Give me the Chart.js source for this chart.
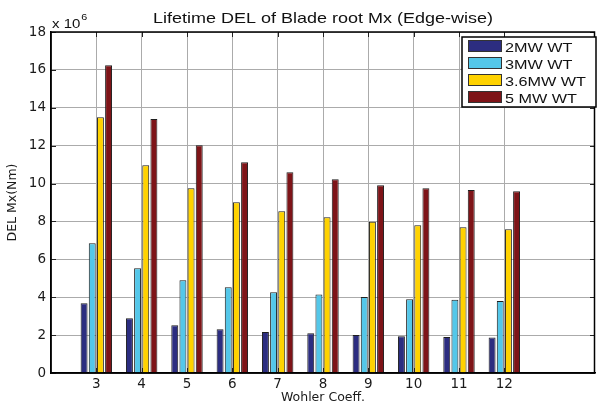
<!DOCTYPE html>
<html>
<head>
<meta charset="utf-8">
<script src="https://cdn.jsdelivr.net/npm/chart.js@4/dist/chart.umd.min.js"></script>
<style>
  html, body { margin: 0; padding: 0; background: #ffffff; }
  #wrap { width: 598px; height: 405px; }
</style>
</head>
<body>
<div id="wrap"><canvas id="chart" width="598" height="405"></canvas></div>
<script>
// Wohler coefficient (x axis) and lifetime DEL of blade root Mx, in units of 1e6 Nm
const wohlerCoeff = [3, 4, 5, 6, 7, 8, 9, 10, 11, 12];
const del2MW  = [3.68, 2.89, 2.52, 2.31, 2.16, 2.10, 2.01, 1.94, 1.90, 1.88];
const del3MW  = [6.85, 5.53, 4.89, 4.52, 4.26, 4.14, 4.01, 3.89, 3.87, 3.80];
const del36MW = [13.50, 10.97, 9.75, 9.01, 8.54, 8.22, 7.99, 7.80, 7.69, 7.59];
const del5MW  = [16.25, 13.41, 12.02, 11.12, 10.60, 10.23, 9.91, 9.75, 9.66, 9.59];
const seriesLabels = ['2MW WT', '3MW WT', '3.6MW WT', '5 MW WT'];
const seriesColors = ['#2c2d80', '#54c7e9', '#ffd200', '#7e1418'];
const yTickValues = [0, 2, 4, 6, 8, 10, 12, 14, 16, 18];
const xRange = [2, 14];

const TEXT_FONT = '"Liberation Sans", Arial, sans-serif';
const TICK_FONT = '"DejaVu Sans", sans-serif';

function points(values) {
  return wohlerCoeff.map((c, i) => ({ x: c, y: values[i] }));
}

const seriesValues = [del2MW, del3MW, del36MW, del5MW];
const datasets = seriesValues.map((vals, i) => ({
  label: seriesLabels[i],
  data: points(vals),
  backgroundColor: seriesColors[i],
  borderColor: '#1e1e1e',
  borderWidth: 1,
  categoryPercentage: 0.72,
  barPercentage: 0.85
}));

// Draws text stretched horizontally by sx
function wideText(ctx, text, x, y, size, sx, align) {
  ctx.save();
  ctx.font = size + 'px ' + TEXT_FONT;
  ctx.textBaseline = 'alphabetic';
  const w = ctx.measureText(text).width * sx;
  let left = x;
  if (align === 'center') left = x - w / 2;
  else if (align === 'right') left = x - w;
  ctx.translate(left, y);
  ctx.scale(sx, 1);
  ctx.textAlign = 'left';
  ctx.fillText(text, 0, 0);
  ctx.restore();
  return w;
}

const frame = {
  id: 'frame',
  afterDatasetsDraw(chart) {
    const { ctx, chartArea: a, scales } = chart;
    ctx.save();
    // inward tick marks on all four sides
    ctx.strokeStyle = '#222';
    ctx.lineWidth = 1;
    ctx.beginPath();
    yTickValues.forEach(v => {
      const y = Math.round(scales.y.getPixelForValue(v)) + 0.5;
      ctx.moveTo(a.left, y); ctx.lineTo(a.left + 5, y);
      ctx.moveTo(a.right, y); ctx.lineTo(a.right - 5, y);
    });
    wohlerCoeff.forEach(v => {
      const x = Math.round(scales.x.getPixelForValue(v)) + 0.5;
      ctx.moveTo(x, a.top); ctx.lineTo(x, a.top + 5);
      ctx.moveTo(x, a.bottom); ctx.lineTo(x, a.bottom - 5);
    });
    ctx.stroke();
    // axes box
    ctx.strokeStyle = '#000';
    ctx.lineWidth = 1.5;
    ctx.strokeRect(a.left, a.top, a.right - a.left - 0.5, a.bottom - a.top);
    ctx.restore();
  },
  afterDraw(chart) {
    const { ctx, chartArea: a } = chart;
    ctx.save();
    ctx.fillStyle = '#111';
    // title
    wideText(ctx, 'Lifetime DEL of Blade root Mx (Edge-wise)', (a.left + a.right) / 2, 23, 15, 1.2, 'center');
    // axis multiplier
    const w = wideText(ctx, 'x 10', a.left + 1, 28, 12.5, 1.2, 'left');
    wideText(ctx, '6', a.left + 1 + w + 1, 20, 9, 1.2, 'left');

    // legend
    const lx = 462, ly = 37, lw = 134, lh = 70;
    ctx.fillStyle = '#ffffff';
    ctx.fillRect(lx, ly, lw, lh);
    ctx.strokeStyle = '#000';
    ctx.lineWidth = 1.5;
    ctx.strokeRect(lx, ly, lw, lh);
    chart.data.datasets.forEach((ds, i) => {
      const ry = ly + 3 + i * 17;
      ctx.fillStyle = ds.backgroundColor;
      ctx.fillRect(468, ry, 34, 12);
      ctx.strokeStyle = '#333';
      ctx.lineWidth = 1;
      ctx.strokeRect(468.5, ry + 0.5, 33, 11);
      ctx.fillStyle = '#111';
      wideText(ctx, ds.label, 505, ry + 12, 13.5, 1.2, 'left');
    });
    ctx.restore();
  }
};

new Chart(document.getElementById('chart'), {
  type: 'bar',
  data: { datasets },
  plugins: [frame],
  options: {
    responsive: false,
    animation: false,
    devicePixelRatio: 1,
    layout: { padding: { top: 32, right: 1, left: 0, bottom: 0 } },
    plugins: {
      legend: { display: false },
      title: { display: false },
      tooltip: { enabled: false }
    },
    scales: {
      x: {
        type: 'linear',
        min: xRange[0],
        max: xRange[1],
        offset: false,
        afterFit(scale) { scale.height = 32; },
        afterBuildTicks(scale) {
          scale.ticks = [];
          for (let v = xRange[0]; v <= xRange[1]; v++) scale.ticks.push({ value: v });
        },
        ticks: {
          autoSkip: false,
          maxRotation: 0,
          padding: 3,
          color: '#1a1a1a',
          font: { family: TICK_FONT, size: 13.5 },
          callback: v => (wohlerCoeff.includes(v) ? String(v) : '')
        },
        grid: {
          offset: false,
          drawTicks: false,
          lineWidth: 1,
          color: c => (c.tick && wohlerCoeff.includes(c.tick.value) ? '#ababab' : 'rgba(0,0,0,0)')
        },
        border: { display: true, color: '#000', width: 1.5 },
        title: {
          display: true,
          text: 'Wohler Coeff.',
          color: '#1a1a1a',
          font: { family: TICK_FONT, size: 12.5 },
          padding: { top: 0, bottom: 0 }
        }
      },
      y: {
        min: 0,
        max: 18,
        afterFit(scale) { scale.width = 51; },
        afterBuildTicks(scale) { scale.ticks = yTickValues.map(v => ({ value: v })); },
        ticks: {
          padding: 5,
          color: '#1a1a1a',
          font: { family: TICK_FONT, size: 13.5 }
        },
        grid: { drawTicks: false, lineWidth: 1, color: '#ababab' },
        border: { display: true, color: '#000', width: 1.5 },
        title: {
          display: true,
          text: 'DEL Mx(Nm)',
          color: '#1a1a1a',
          font: { family: TICK_FONT, size: 12.5 },
          padding: { top: 5, bottom: 0 }
        }
      }
    }
  }
});
</script>
</body>
</html>
